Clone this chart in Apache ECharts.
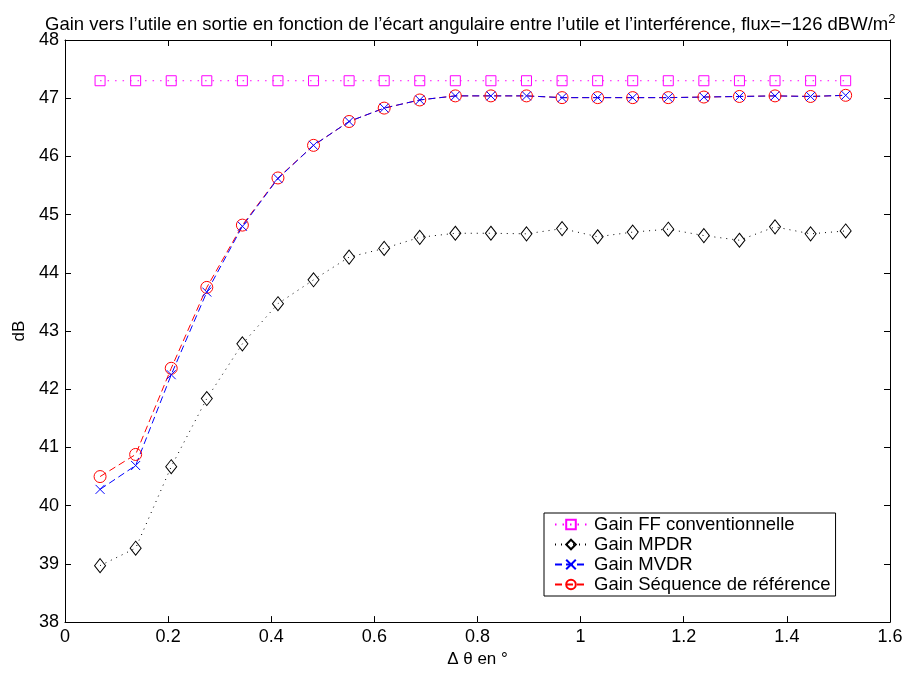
<!DOCTYPE html>
<html>
<head>
<meta charset="utf-8">
<script src="https://cdn.jsdelivr.net/npm/echarts@6/dist/echarts.min.js"></script>
<style>
  html, body { margin: 0; padding: 0; background: #fff; }
  #chart { width: 906px; height: 673px; }
</style>
</head>
<body>
<div id="chart"></div>
<script>
// écart angulaire (°)
const theta = [0.068, 0.137, 0.206, 0.275, 0.344, 0.413, 0.482, 0.551, 0.619, 0.688, 0.757,
  0.826, 0.895, 0.964, 1.033, 1.101, 1.170, 1.239, 1.308, 1.377, 1.446, 1.514]

const gainFF = [47.3, 47.3, 47.3, 47.3, 47.3, 47.3, 47.3, 47.3, 47.3, 47.3, 47.3,
  47.3, 47.3, 47.3, 47.3, 47.3, 47.3, 47.3, 47.3, 47.3, 47.3, 47.3]
const gainMPDR = [38.97, 39.27, 40.67, 41.84, 42.78, 43.47, 43.88, 44.27, 44.42, 44.61, 44.68,
  44.68, 44.67, 44.76, 44.62, 44.70, 44.75, 44.64, 44.56, 44.79, 44.67, 44.72]
const gainMVDR = [40.28, 40.69, 42.25, 43.67, 44.80, 45.62, 46.19, 46.60, 46.83, 46.97, 47.04,
  47.04, 47.04, 47.01, 47.01, 47.01, 47.01, 47.02, 47.03, 47.04, 47.03, 47.05]
const gainRef = [40.50, 40.88, 42.36, 43.75, 44.82, 45.63, 46.19, 46.60, 46.83, 46.97, 47.04,
  47.04, 47.04, 47.01, 47.01, 47.01, 47.01, 47.02, 47.03, 47.04, 47.03, 47.05]

const xTicks = { min: 0, max: 1.6, interval: 0.2 }
const yTicks = { min: 38, max: 48, interval: 1 }

const FONT = "'Liberation Sans', Arial, Helvetica, sans-serif"
const pairs = ys => theta.map((t, i) => [t, ys[i]])

const chart = echarts.init(document.getElementById('chart'))

const axisCommon = {
  axisLine: { show: true, onZero: false, lineStyle: { color: '#000', width: 1 } },
  axisTick: { show: true, inside: true, length: 6, lineStyle: { color: '#000' } },
  splitLine: { show: false }
}

chart.setOption({
  animation: false,
  textStyle: { fontFamily: FONT },
  title: {
    text: 'Gain vers l’utile en sortie en fonction de l’écart angulaire entre l’utile et l’interférence, flux=−126 dBW/m{sup|2}',
    left: 40,
    top: 8,
    textStyle: {
      fontFamily: FONT,
      fontSize: 18.5,
      fontWeight: 'normal',
      color: '#000',
      rich: {
        sup: { fontSize: 13, fontFamily: FONT, color: '#000', padding: [0, 0, 11, 0] }
      }
    }
  },
  grid: { left: 65, right: 16, top: 40, bottom: 47 },
  legend: {
    orient: 'vertical',
    left: 544,
    top: 513,
    padding: [2, 5, 2, 10],
    itemGap: 1,
    itemWidth: 32,
    itemHeight: 12,
    backgroundColor: '#fff',
    borderColor: '#000',
    borderWidth: 1,
    textStyle: { fontFamily: FONT, fontSize: 18.5, color: '#000', padding: [0, 0, 0, 2] },
    data: ['Gain FF conventionnelle', 'Gain MPDR', 'Gain MVDR', 'Gain Séquence de référence']
  },
  xAxis: [
    Object.assign({
      type: 'value',
      min: xTicks.min,
      max: xTicks.max,
      interval: xTicks.interval,
      name: 'Δ θ en °',
      nameLocation: 'middle',
      nameGap: 25,
      nameTextStyle: { fontFamily: FONT, fontSize: 17, color: '#000' },
      axisLabel: { fontFamily: FONT, fontSize: 18, color: '#000', margin: 6 }
    }, axisCommon),
    Object.assign({
      type: 'value',
      position: 'top',
      min: xTicks.min,
      max: xTicks.max,
      interval: xTicks.interval,
      axisLabel: { show: false }
    }, axisCommon)
  ],
  yAxis: [
    Object.assign({
      type: 'value',
      min: yTicks.min,
      max: yTicks.max,
      interval: yTicks.interval,
      name: 'dB',
      nameLocation: 'middle',
      nameGap: 34,
      nameTextStyle: { fontFamily: FONT, fontSize: 17, color: '#000' },
      axisLabel: { fontFamily: FONT, fontSize: 18, color: '#000', margin: 6 }
    }, axisCommon),
    Object.assign({
      type: 'value',
      position: 'right',
      min: yTicks.min,
      max: yTicks.max,
      interval: yTicks.interval,
      axisLabel: { show: false }
    }, axisCommon)
  ],
  series: [
    {
      name: 'Gain FF conventionnelle',
      type: 'line',
      data: pairs(gainFF),
      symbol: 'rect',
      symbolSize: 10,
      itemStyle: { color: 'none', borderColor: '#ff00ff', borderWidth: 1 },
      lineStyle: { color: '#ff00ff', width: 1, type: [1.5, 6] }
    },
    {
      name: 'Gain MPDR',
      type: 'line',
      data: pairs(gainMPDR),
      symbol: 'diamond',
      symbolSize: [11, 14],
      itemStyle: { color: 'none', borderColor: '#000', borderWidth: 1 },
      lineStyle: { color: '#000', width: 1, type: [1, 5] }
    },
    {
      name: 'Gain Séquence de référence',
      type: 'line',
      data: pairs(gainRef),
      symbol: 'circle',
      symbolSize: 12,
      itemStyle: { color: 'none', borderColor: '#ff0000', borderWidth: 1 },
      lineStyle: { color: '#ff0000', width: 1, type: [7, 4] }
    },
    {
      name: 'Gain MVDR',
      type: 'line',
      data: pairs(gainMVDR),
      symbol: 'path://M0,0L10,10M10,0L0,10',
      symbolSize: 9,
      itemStyle: { color: 'none', borderColor: '#0000ff', borderWidth: 1 },
      lineStyle: { color: '#0000ff', width: 1, type: [7, 4] }
    }
  ]
})
</script>
</body>
</html>
